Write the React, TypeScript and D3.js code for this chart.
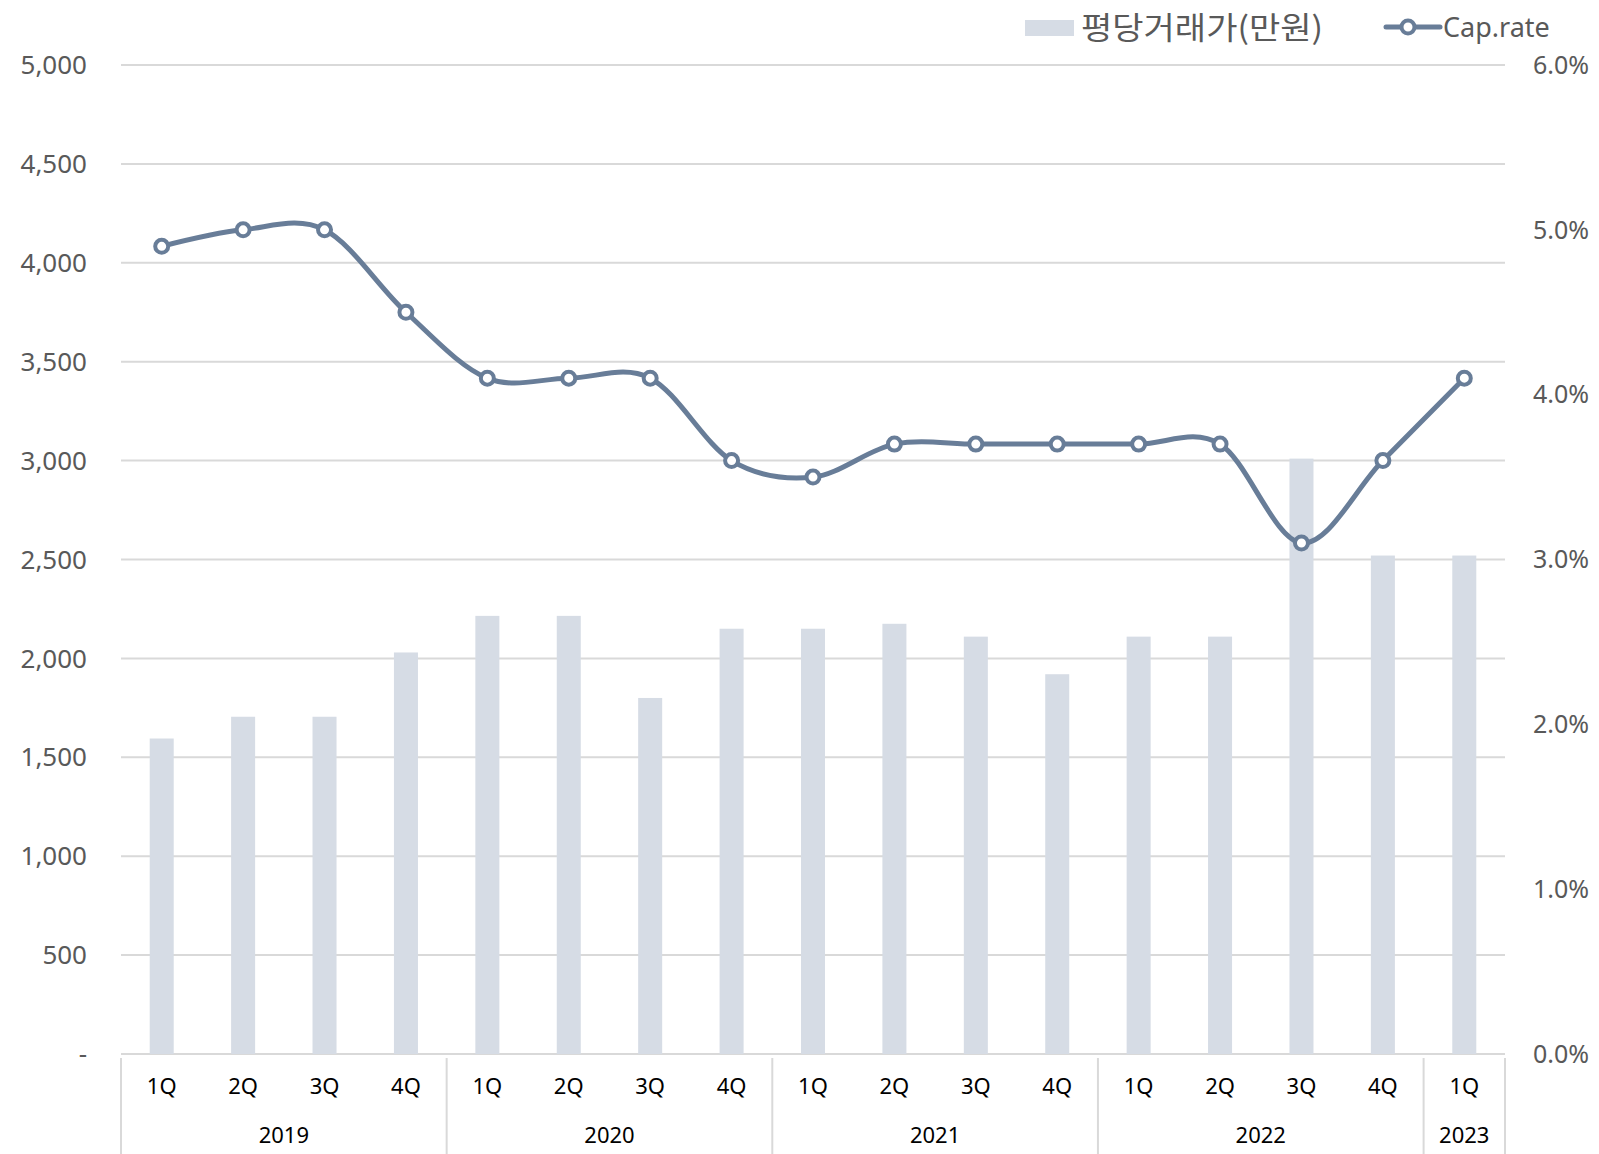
import React from 'react';
import * as d3 from 'd3';

const quarters = ['1Q', '2Q', '3Q', '4Q', '1Q', '2Q', '3Q', '4Q', '1Q', '2Q', '3Q', '4Q', '1Q', '2Q', '3Q', '4Q', '1Q'];
const years = ['2019', '2019', '2019', '2019', '2020', '2020', '2020', '2020', '2021', '2021', '2021', '2021', '2022', '2022', '2022', '2022', '2023'];
const pricePerPyeong = [1595, 1705, 1705, 2030, 2215, 2215, 1800, 2150, 2150, 2175, 2110, 1920, 2110, 2110, 3010, 2520, 2520];
const capRate = [4.9, 5.0, 5.0, 4.5, 4.1, 4.1, 4.1, 3.6, 3.5, 3.7, 3.7, 3.7, 3.7, 3.7, 3.1, 3.6, 4.1];
const leftTicks = [0, 500, 1000, 1500, 2000, 2500, 3000, 3500, 4000, 4500, 5000];
const rightTicks = [0, 1, 2, 3, 4, 5, 6];

const W = 1599;
const H = 1154;
const margin = { top: 65, right: 94, bottom: 100, left: 121 };

const BAR = '#d6dce5';
const LINE = '#687d98';
const GRID = '#d9d9d9';

const App = () => {
  const plotBottom = H - margin.bottom;
  const plotRight = W - margin.right;

  const x = d3
    .scaleBand<number>()
    .domain(d3.range(quarters.length))
    .range([margin.left, plotRight])
    .paddingInner(0.705)
    .paddingOuter(0.3525);

  const xc = (i: number) => (x(i) as number) + x.bandwidth() / 2;
  const step = x.step();

  const y = d3.scaleLinear().domain([0, 5000]).range([plotBottom, margin.top]);
  const y2 = d3.scaleLinear().domain([0, 6]).range([plotBottom, margin.top]);

  const line = d3
    .line<number>()
    .x((d, i) => xc(i))
    .y((d) => y2(d))
    .curve(d3.curveCardinal.tension(0));

  // year groups
  const groups: { year: string; start: number; end: number }[] = [];
  years.forEach((yr, i) => {
    const g = groups[groups.length - 1];
    if (g && g.year === yr) g.end = i;
    else groups.push({ year: yr, start: i, end: i });
  });
  const boundary = (i: number) => margin.left + i * step;

  const fmt = d3.format(',');
  const font = '"Noto Sans", "Noto Sans CJK KR", sans-serif';

  return (
    <div style={{ position: 'absolute', left: 0, top: 0 }}>
      <svg width={W} height={H} style={{ display: 'block', background: '#fff' }} fontFamily={font}>
        {/* gridlines */}
        {leftTicks.map((t) => (
          <line key={'g' + t} x1={margin.left} x2={plotRight} y1={y(t)} y2={y(t)} stroke={GRID} strokeWidth={2} />
        ))}

        {/* bars */}
        {pricePerPyeong.map((v, i) => (
          <rect key={'b' + i} x={x(i)} y={y(v)} width={x.bandwidth()} height={plotBottom - y(v)} fill={BAR} />
        ))}

        {/* left axis labels */}
        {leftTicks.map((t) => (
          <text key={'l' + t} x={87} y={y(t)} dy="0.35em" textAnchor="end" fontSize={26} fill="#595959">
            {t === 0 ? '-' : fmt(t)}
          </text>
        ))}

        {/* right axis labels */}
        {rightTicks.map((t) => (
          <text key={'r' + t} x={1533} y={y2(t)} dy="0.35em" textAnchor="start" fontSize={25} fill="#595959">
            {t.toFixed(1) + '%'}
          </text>
        ))}

        {/* category axis */}
        {quarters.map((q, i) => (
          <text key={'q' + i} x={xc(i)} y={1086} dy="0.35em" textAnchor="middle" fontSize={22} fill="#000">
            {q}
          </text>
        ))}
        {groups.map((g) => (
          <text
            key={'y' + g.year}
            x={(boundary(g.start) + boundary(g.end + 1)) / 2}
            y={1135}
            dy="0.35em"
            textAnchor="middle"
            fontSize={22}
            fill="#000"
          >
            {g.year}
          </text>
        ))}
        {[...groups.map((g) => g.start), quarters.length].map((b) => (
          <line key={'s' + b} x1={boundary(b)} x2={boundary(b)} y1={1058} y2={H} stroke={GRID} strokeWidth={2} />
        ))}

        {/* cap rate line */}
        <path d={line(capRate) || ''} fill="none" stroke={LINE} strokeWidth={5} strokeLinecap="round" />
        {capRate.map((v, i) => (
          <circle key={'c' + i} cx={xc(i)} cy={y2(v)} r={6.5} fill="#fff" stroke={LINE} strokeWidth={4} />
        ))}

        {/* legend */}
        <rect x={1025} y={20} width={49} height={16} fill={BAR} />
        <text
          x={1081}
          y={28}
          dy="0.35em"
          fontSize={31}
          fill="#595959"
          fontFamily='"Noto Sans CJK KR", sans-serif'
          textLength={242}
          lengthAdjust="spacingAndGlyphs"
        >
          평당거래가(만원)
        </text>
        <line x1={1386} x2={1440} y1={27} y2={27} stroke={LINE} strokeWidth={5} strokeLinecap="round" />
        <circle cx={1408} cy={27} r={6.5} fill="#fff" stroke={LINE} strokeWidth={4} />
        <text x={1443} y={28} dy="0.35em" fontSize={27} fill="#595959">
          Cap.rate
        </text>
      </svg>
    </div>
  );
};

export default App;
